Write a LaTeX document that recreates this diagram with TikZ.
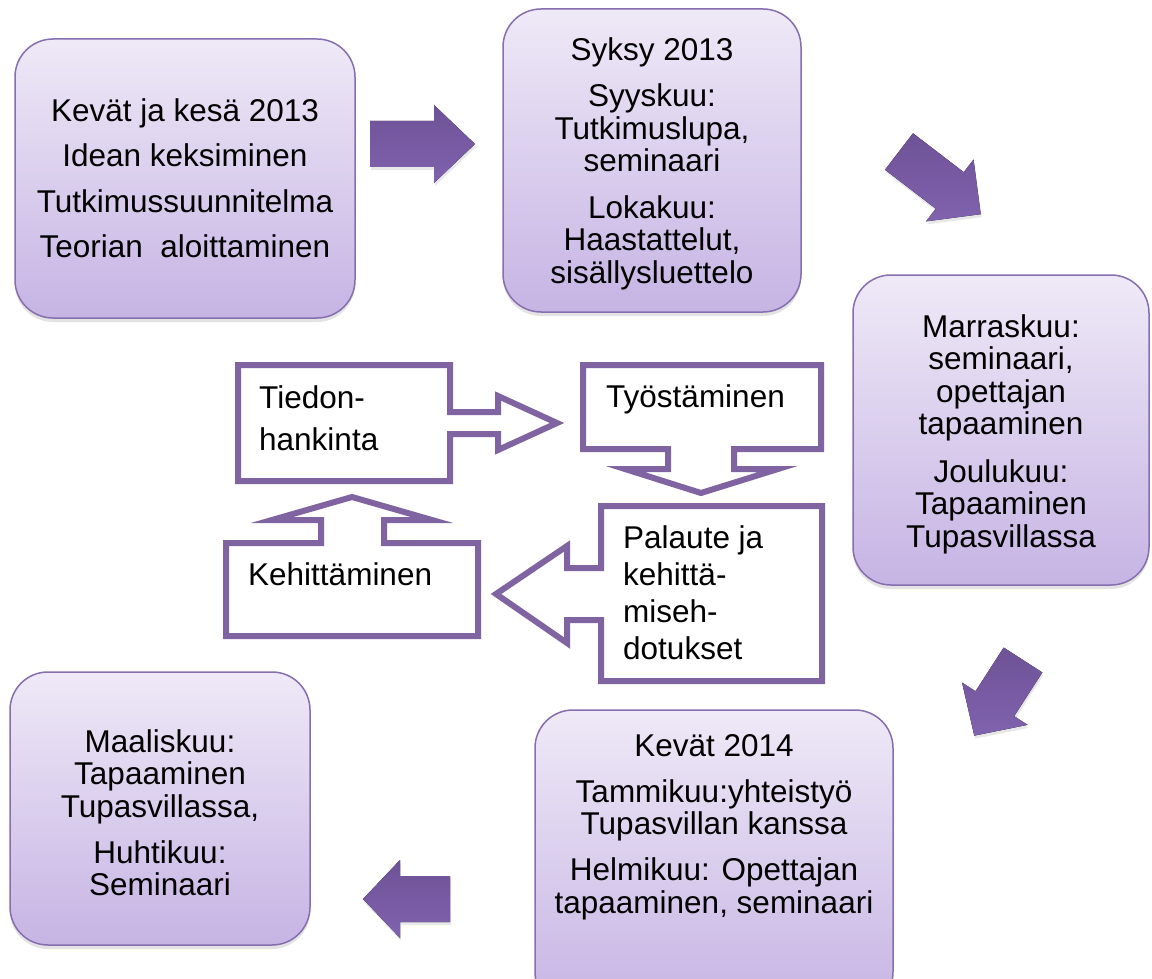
\documentclass[tikz,border=0pt]{standalone}
\usepackage{fontspec}
\setmainfont{Liberation Sans}
\usetikzlibrary{shadows}
\definecolor{boxtop}{RGB}{239,233,247}
\definecolor{boxbot}{RGB}{198,180,228}
\definecolor{boxline}{RGB}{135,110,175}
\definecolor{cyc}{RGB}{128,100,162}
\definecolor{arrtop}{RGB}{110,82,150}
\definecolor{arrbot}{RGB}{128,98,174}
\newcommand\bigtxt{\fontsize{31.5}{32.5}\selectfont}
\newcommand\fstrut{\rule{0pt}{24pt}}
\begin{document}
\begin{tikzpicture}[x=1pt,y=-1pt,
  box/.style={draw=boxline, line width=1.5pt, rounded corners=38pt,
    top color=boxtop, bottom color=boxbot,
    drop shadow={shadow xshift=0pt, shadow yshift=-4pt, opacity=0.22},
    inner sep=0pt},
  txt/.style={font=\bigtxt, align=center, inner sep=0pt, anchor=north},
  ctxt/.style={inner sep=0pt, align=left},
  cycshape/.style={draw=cyc, fill=white, line width=6pt, miter limit=10},
  blkarrow/.style={top color=arrtop, bottom color=arrbot, draw=none,
    drop shadow={shadow xshift=1pt, shadow yshift=-3pt, opacity=0.18}}
]
\useasboundingbox (0,0) rectangle (1152,979);
\clip (0,0) rectangle (1152,979);
\fill[white] (0,0) rectangle (1152,979);

% ---- outer rounded boxes ----
\node[box, minimum width=340pt, minimum height=279pt] (b1) at (185,178.5) {};
\node[box, minimum width=298pt, minimum height=303pt] (b2) at (652,160.5) {};
\node[box, minimum width=296pt, minimum height=310pt] (b3) at (1001,430) {};
\node[box, minimum width=358pt, minimum height=300pt] (b4) at (714,860) {};
\node[box, minimum width=300pt, minimum height=273pt] (b5) at (160,808.5) {};

\node[txt] (t1) at (185,97) {\fstrut Kevät ja kesä 2013\\[13pt]Idean keksiminen\\[13pt]Tutkimussuunnitelma\\[13pt]Teorian~ aloittaminen};
\node[txt] (t2) at (652,36) {\fstrut Syksy 2013\\[14pt]Syyskuu:\\Tutkimuslupa,\\seminaari\\[14pt]Lokakuu:\\Haastattelut,\\sisällysluettelo};
\node[txt] (t3) at (1001,313) {\fstrut Marraskuu:\\seminaari,\\opettajan\\tapaaminen\\[15pt]Joulukuu:\\Tapaaminen\\Tupasvillassa};
\node[txt] (t4) at (714,732) {\fstrut Kevät 2014\\[13.5pt]Tammikuu:yhteistyö\\Tupasvillan kanssa\\[13.5pt]Helmikuu: Opettajan\\tapaaminen, seminaari};
\node[txt] (t5) at (160,728) {\fstrut Maaliskuu:\\Tapaaminen\\Tupasvillassa,\\[13.5pt]Huhtikuu:\\Seminaari};

% ---- block arrows between outer boxes ----
\fill[blkarrow, shift={(370,144)}] (0,-23) -- (64,-23) -- (64,-39) -- (105,0) -- (64,39) -- (64,23) -- (0,23) -- cycle;
\fill[blkarrow, shift={(899,151.5)}, rotate=-37.5] (0,-23) -- (64,-23) -- (64,-39) -- (103,0) -- (64,39) -- (64,23) -- (0,23) -- cycle;
\fill[blkarrow, shift={(1023,660)}, rotate=-122.8] (0,-23) -- (52,-23) -- (52,-39) -- (90,0) -- (52,39) -- (52,23) -- (0,23) -- cycle;
\fill[blkarrow, shift={(450,899)}, rotate=180] (0,-23) -- (50,-23) -- (50,-39) -- (87,0) -- (50,39) -- (50,23) -- (0,23) -- cycle;

% ---- central cycle ----
\draw[cycshape] (238,365) -- (450,365) -- (450,412) -- (498,412) -- (498,396) -- (557,423)
  -- (498,450) -- (498,434) -- (450,434) -- (450,481) -- (238,481) -- cycle;
\draw[cycshape] (583,365) -- (821,365) -- (821,449) -- (734,449) -- (734,469) -- (778,469)
  -- (701,493) -- (625,469) -- (668,469) -- (668,449) -- (583,449) -- cycle;
\draw[cycshape] (601,506) -- (822,506) -- (822,681) -- (601,681) -- (601,620) -- (567,620)
  -- (567,643) -- (496,594) -- (567,546) -- (567,568) -- (601,568) -- cycle;
\draw[cycshape] (226,543) -- (321,543) -- (321,520) -- (272,520) -- (352,497) -- (432,520)
  -- (384,520) -- (384,543) -- (478,543) -- (478,636) -- (226,636) -- cycle;

\node[ctxt, anchor=north west, font=\fontsize{31.5}{42}\selectfont] (c1) at (259,384) {\fstrut Tiedon-\\hankinta};
\node[ctxt, anchor=base west, font=\bigtxt] (c2) at (606,407) {Työstäminen};
\node[ctxt, anchor=north west, font=\fontsize{31.5}{37}\selectfont] (c3) at (623,524) {\fstrut Palaute ja\\kehittä-\\miseh-\\dotukset};
\node[ctxt, anchor=base west, font=\bigtxt] (c4) at (248,585) {Kehittäminen};
\end{tikzpicture}
\end{document}
